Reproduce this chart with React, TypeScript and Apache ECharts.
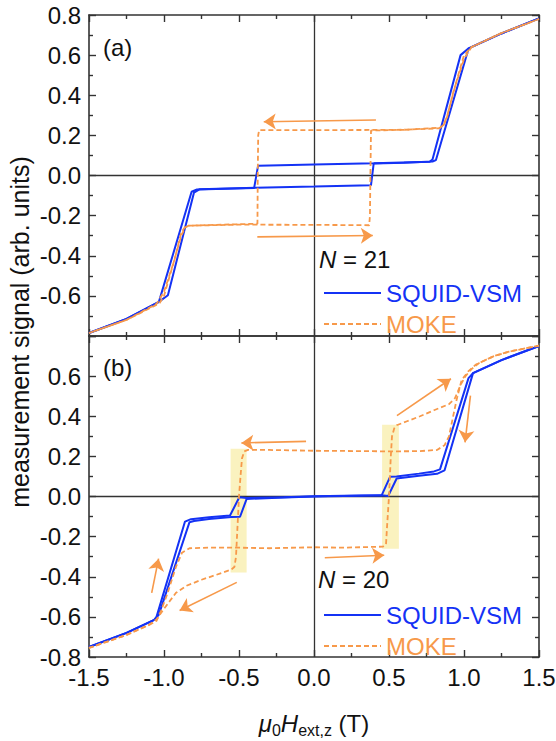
import React, { useEffect, useRef } from "react";
import * as echarts from "echarts";

// ---------- data ----------
// Panel (a), N = 21
const squidA_up: number[][] = [
  [-1.5, -0.785], [-1.25, -0.715], [-1.034, -0.63], [-0.974, -0.597], [-0.8, -0.085], [-0.764, -0.069],
  [-0.39, -0.061], [0.0, -0.055], [0.38, -0.048], [0.398, 0.06], [0.6, 0.064], [0.79, 0.07], [0.813, 0.077],
  [1.031, 0.634], [1.25, 0.708], [1.5, 0.783],
];
const squidA_down: number[][] = [
  [1.5, 0.783], [1.25, 0.708], [1.031, 0.634], [0.977, 0.6], [0.79, 0.08], [0.771, 0.068], [0.4, 0.061],
  [0.0, 0.055], [-0.373, 0.048], [-0.399, -0.062], [-0.78, -0.07], [-0.816, -0.081], [-1.034, -0.63],
  [-1.25, -0.715], [-1.5, -0.785],
];
const mokeA_up: number[][] = [
  [-1.5, -0.785], [-1.25, -0.72], [-1.05, -0.64], [-1.0, -0.58], [-0.93, -0.42], [-0.885, -0.285],
  [-0.86, -0.257], [-0.83, -0.25], [-0.5, -0.245], [0.0, -0.246], [0.368, -0.248], [0.373, -0.2],
  [0.376, 0.0], [0.38, 0.224], [0.6, 0.228], [0.84, 0.238], [0.86, 0.25], [0.885, 0.29], [0.95, 0.47],
  [1.0, 0.6], [1.05, 0.64], [1.25, 0.71], [1.5, 0.78],
];
const mokeA_down: number[][] = [
  [1.5, 0.78], [1.25, 0.71], [1.05, 0.64], [1.0, 0.58], [0.93, 0.42], [0.885, 0.285], [0.86, 0.245],
  [0.83, 0.235], [0.6, 0.228], [0.38, 0.227], [0.0, 0.226], [-0.366, 0.226], [-0.372, 0.2], [-0.375, 0.0],
  [-0.377, -0.24], [-0.5, -0.243], [-0.838, -0.25], [-0.86, -0.26], [-0.885, -0.3], [-0.95, -0.47],
  [-1.0, -0.6], [-1.03, -0.637], [-1.25, -0.72], [-1.5, -0.785],
];

// Panel (b), N = 20
const squidB_up: number[][] = [
  [-1.5, -0.75], [-1.25, -0.68], [-1.065, -0.615], [-1.035, -0.59], [-0.83, -0.128], [-0.8, -0.122],
  [-0.7, -0.112], [-0.55, -0.102], [-0.493, -0.101], [-0.449, -0.012], [-0.2, -0.005], [0.0, 0.0],
  [0.2, 0.003], [0.45, 0.006], [0.495, 0.003], [0.551, 0.09], [0.7, 0.103], [0.82, 0.113], [0.87, 0.13],
  [1.06, 0.615], [1.25, 0.68], [1.5, 0.75],
];
const squidB_down: number[][] = [
  [1.5, 0.75], [1.25, 0.68], [1.06, 0.615], [1.03, 0.59], [0.84, 0.135], [0.8, 0.125], [0.7, 0.114],
  [0.55, 0.1], [0.507, 0.098], [0.451, 0.006], [0.2, 0.004], [0.0, 0.001], [-0.2, -0.004], [-0.45, -0.007],
  [-0.498, -0.004], [-0.56, -0.095], [-0.7, -0.104], [-0.82, -0.113], [-0.86, -0.125], [-1.05, -0.6],
  [-1.065, -0.615], [-1.25, -0.68], [-1.5, -0.75],
];
const mokeB_up: number[][] = [
  [-1.5, -0.755], [-1.25, -0.69], [-1.1, -0.64], [-1.05, -0.62], [-1.02, -0.57], [-0.98, -0.49],
  [-0.92, -0.35], [-0.88, -0.28], [-0.83, -0.258], [-0.7, -0.255], [-0.5, -0.255], [-0.3, -0.258],
  [0.0, -0.253], [0.2, -0.255], [0.46, -0.25], [0.48, -0.238], [0.487, -0.15], [0.5, 0.0], [0.512, 0.2],
  [0.52, 0.3], [0.535, 0.34], [0.551, 0.355], [0.62, 0.375], [0.707, 0.4], [0.8, 0.43], [0.9, 0.46],
  [0.94, 0.49], [0.98, 0.56], [1.01, 0.6], [1.05, 0.635], [1.1, 0.665], [1.2, 0.7], [1.3, 0.722],
  [1.5, 0.752],
];
const mokeB_down: number[][] = [
  [1.5, 0.752], [1.3, 0.722], [1.2, 0.7], [1.08, 0.658], [1.03, 0.625], [0.984, 0.58], [0.95, 0.48],
  [0.9, 0.3], [0.87, 0.255], [0.82, 0.232], [0.7, 0.226], [0.5, 0.225], [0.2, 0.227], [0.0, 0.228],
  [-0.3, 0.232], [-0.44, 0.232], [-0.465, 0.225], [-0.48, 0.19], [-0.49, 0.1], [-0.5, 0.0],
  [-0.51, -0.15], [-0.52, -0.3], [-0.53, -0.35], [-0.55, -0.364], [-0.65, -0.39], [-0.75, -0.415],
  [-0.85, -0.445], [-0.92, -0.48], [-0.96, -0.52], [-1.005, -0.565], [-1.05, -0.613], [-1.1, -0.64],
  [-1.25, -0.69], [-1.5, -0.755],
];

// arrows: [x1, y1, x2, y2] (head at the second point)
const arrowsA: number[][] = [
  [0.413, 0.277, -0.335, 0.268],
  [-0.378, -0.306, 0.392, -0.299],
];
const arrowsB: number[][] = [
  [-0.053, 0.275, -0.484, 0.267],
  [0.072, -0.305, 0.468, -0.293],
  [0.553, 0.403, 0.913, 0.587],
  [1.043, 0.503, 1.007, 0.27],
  [-1.082, -0.48, -1.036, -0.31],
  [-0.515, -0.428, -0.896, -0.568],
];
// highlighted field ranges in (b): [x1, x2, y1, y2]
const highlightsB: number[][] = [
  [-0.556, -0.449, 0.238, -0.379],
  [0.454, 0.566, 0.358, -0.26],
];

const X_TICK_STEP = 0.5;
const Y_TICK_STEP = 0.2;
const xRange = [-1.5, 1.5];
const yRange = [-0.8, 0.8];
const legendNames = ["SQUID-VSM", "MOKE"];
const panelLabels = ["(a)", "(b)"];
const sampleCounts = ["21", "20"];

// ---------- styling ----------
const BLUE = "#1432f5";
const ORANGE = "#f7994a";
const AXIS = "#333";
const FONT = "'Liberation Sans', Arial, sans-serif";

function buildOption() {
  const grids = [
    { left: 89, top: 15, width: 450, height: 321 },
    { left: 89, top: 336, width: 450, height: 321 },
  ].map((g) => ({ ...g, outerBoundsMode: "none", containLabel: false }));

  const tick = {
    show: true,
    inside: true,
    length: 7,
    lineStyle: { color: AXIS, width: 1.4 },
  };
  const minor = {
    show: true,
    splitNumber: 2,
    length: 4,
    lineStyle: { color: AXIS, width: 1.4 },
  };
  const axisLine = { show: true, lineStyle: { color: AXIS, width: 1.6 } };

  const xAxes: any[] = [];
  const yAxes: any[] = [];
  [0, 1].forEach((gi) => {
    ["bottom", "top"].forEach((pos) => {
      xAxes.push({
        type: "value",
        gridIndex: gi,
        position: pos,
        min: xRange[0],
        max: xRange[1],
        interval: X_TICK_STEP,
        axisLine: { ...axisLine, onZero: false },
        axisTick: tick,
        minorTick: minor,
        splitLine: { show: false },
        axisLabel: {
          show: gi === 1 && pos === "bottom",
          fontSize: 24,
          fontFamily: FONT,
          color: "#111",
          margin: 8,
          formatter: (v: number) => v.toFixed(1),
        },
      });
    });
    ["left", "right"].forEach((pos) => {
      const hide = gi === 0 ? yRange[0] : yRange[1];
      yAxes.push({
        type: "value",
        gridIndex: gi,
        position: pos,
        min: yRange[0],
        max: yRange[1],
        interval: Y_TICK_STEP,
        axisLine: { ...axisLine, onZero: false },
        axisTick: tick,
        minorTick: minor,
        splitLine: { show: false },
        axisLabel: {
          show: pos === "left",
          fontSize: 24,
          fontFamily: FONT,
          color: "#111",
          margin: 8,
          formatter: (v: number) => (Math.abs(v - hide) < 1e-6 ? "" : v.toFixed(1)),
        },
      });
    });
  });

  const lineSeries = (name: string, data: number[][], gi: number, color: string, dashed: boolean) => ({
    type: "line",
    name,
    data,
    xAxisIndex: gi * 2,
    yAxisIndex: gi * 2,
    symbol: "none",
    showSymbol: false,
    smooth: false,
    z: 3,
    lineStyle: { color, width: dashed ? 1.8 : 2, type: dashed ? [5, 3] : "solid" },
    itemStyle: { color },
    emphasis: { disabled: true },
  });

  const arrowMark = (arr: number[][]) => ({
    silent: true,
    symbol: ["none", "arrow"],
    symbolSize: 12,
    label: { show: false },
    lineStyle: { color: ORANGE, width: 1.6, type: "solid" },
    itemStyle: { color: ORANGE },
    emphasis: { disabled: true },
    z: 5,
    data: arr.map((a) => [{ coord: [a[0], a[1]] }, { coord: [a[2], a[3]] }]),
  });

  const helperSeries = (gi: number, withAreas: boolean) => ({
    type: "line",
    name: "zero-" + gi,
    data: [],
    xAxisIndex: gi * 2,
    yAxisIndex: gi * 2,
    symbol: "none",
    z: 1,
    markLine: {
      silent: true,
      symbol: "none",
      label: { show: false },
      lineStyle: { color: AXIS, width: 1.3, type: "solid" },
      emphasis: { disabled: true },
      z: 1,
      data: [{ xAxis: 0 }, { yAxis: 0 }],
    },
    markArea: withAreas
      ? {
          silent: true,
          z: 0,
          itemStyle: { color: "rgba(248, 238, 170, 0.75)" },
          emphasis: { disabled: true },
          data: highlightsB.map((h) => [{ coord: [h[0], h[2]] }, { coord: [h[1], h[3]] }]),
        }
      : undefined,
  });

  const mokeA = lineSeries(legendNames[1], mokeA_up, 0, ORANGE, true) as any;
  mokeA.markLine = arrowMark(arrowsA);
  const mokeB = lineSeries(legendNames[1], mokeB_up, 1, ORANGE, true) as any;
  mokeB.markLine = arrowMark(arrowsB);

  const series: any[] = [
    helperSeries(0, false),
    helperSeries(1, true),
    lineSeries(legendNames[0], squidA_up, 0, BLUE, false),
    lineSeries(legendNames[0], squidA_down, 0, BLUE, false),
    mokeA,
    lineSeries(legendNames[1], mokeA_down, 0, ORANGE, true),
    lineSeries(legendNames[0], squidB_up, 1, BLUE, false),
    lineSeries(legendNames[0], squidB_down, 1, BLUE, false),
    mokeB,
    lineSeries(legendNames[1], mokeB_down, 1, ORANGE, true),
  ];

  const legendBase = (top: number) => ({
    orient: "vertical",
    left: 318,
    top,
    itemWidth: 57,
    itemHeight: 14,
    itemGap: 7,
    selectedMode: false,
    itemStyle: { opacity: 0 },
    textStyle: { fontSize: 24, fontFamily: FONT, lineHeight: 24 },
    data: [
      { name: legendNames[0], textStyle: { color: BLUE } },
      { name: legendNames[1], textStyle: { color: ORANGE } },
    ],
  });

  const txt = (x: number, y: number, text: string, extra: any = {}) => ({
    type: "text",
    x,
    y,
    silent: true,
    style: {
      text,
      fontSize: 24,
      fontFamily: FONT,
      fill: "#111",
      align: "left",
      verticalAlign: "middle",
      ...extra,
    },
  });
  const italicRich = {
    i: { fontStyle: "italic", fontSize: 24, fontFamily: FONT, fill: "#111" },
  };

  const graphic: any[] = [
    txt(103, 47, panelLabels[0]),
    txt(103, 367, panelLabels[1]),
    txt(319, 259, "{i|N} = " + sampleCounts[0], { rich: italicRich }),
    txt(318, 579, "{i|N} = " + sampleCounts[1], { rich: italicRich }),
    {
      type: "text",
      x: 20,
      y: 332,
      rotation: Math.PI / 2,
      silent: true,
      style: {
        text: "measurement signal (arb. units)",
        fontSize: 25,
        fontFamily: FONT,
        fill: "#111",
        align: "center",
        verticalAlign: "middle",
      },
    },
    {
      type: "text",
      x: 314,
      y: 723,
      silent: true,
      style: {
        text: "{i|μ}{s|0}{i|H}{s|ext,z}{n| (T)}",
        align: "center",
        verticalAlign: "middle",
        fontSize: 24,
        fontFamily: FONT,
        fill: "#111",
        rich: {
          i: { fontStyle: "italic", fontSize: 24, fontFamily: FONT, fill: "#111", lineHeight: 30 },
          n: { fontSize: 24, fontFamily: FONT, fill: "#111", lineHeight: 30 },
          s: { fontSize: 16, fontFamily: FONT, fill: "#111", lineHeight: 14, verticalAlign: "bottom" },
        },
      },
    },
  ];

  return {
    animation: false,
    backgroundColor: "#ffffff",
    grid: grids,
    xAxis: xAxes,
    yAxis: yAxes,
    legend: [legendBase(276), legendBase(598)],
    series,
    graphic,
  };
}

export default function App() {
  const ref = useRef<HTMLDivElement>(null);
  useEffect(() => {
    if (!ref.current) return;
    const chart = echarts.init(ref.current, undefined, { renderer: "svg" });
    chart.setOption(buildOption() as any);
    return () => chart.dispose();
  }, []);
  return (
    <div
      ref={ref}
      style={{ position: "fixed", left: 0, top: 0, width: 556, height: 741, background: "#fff" }}
    />
  );
}
